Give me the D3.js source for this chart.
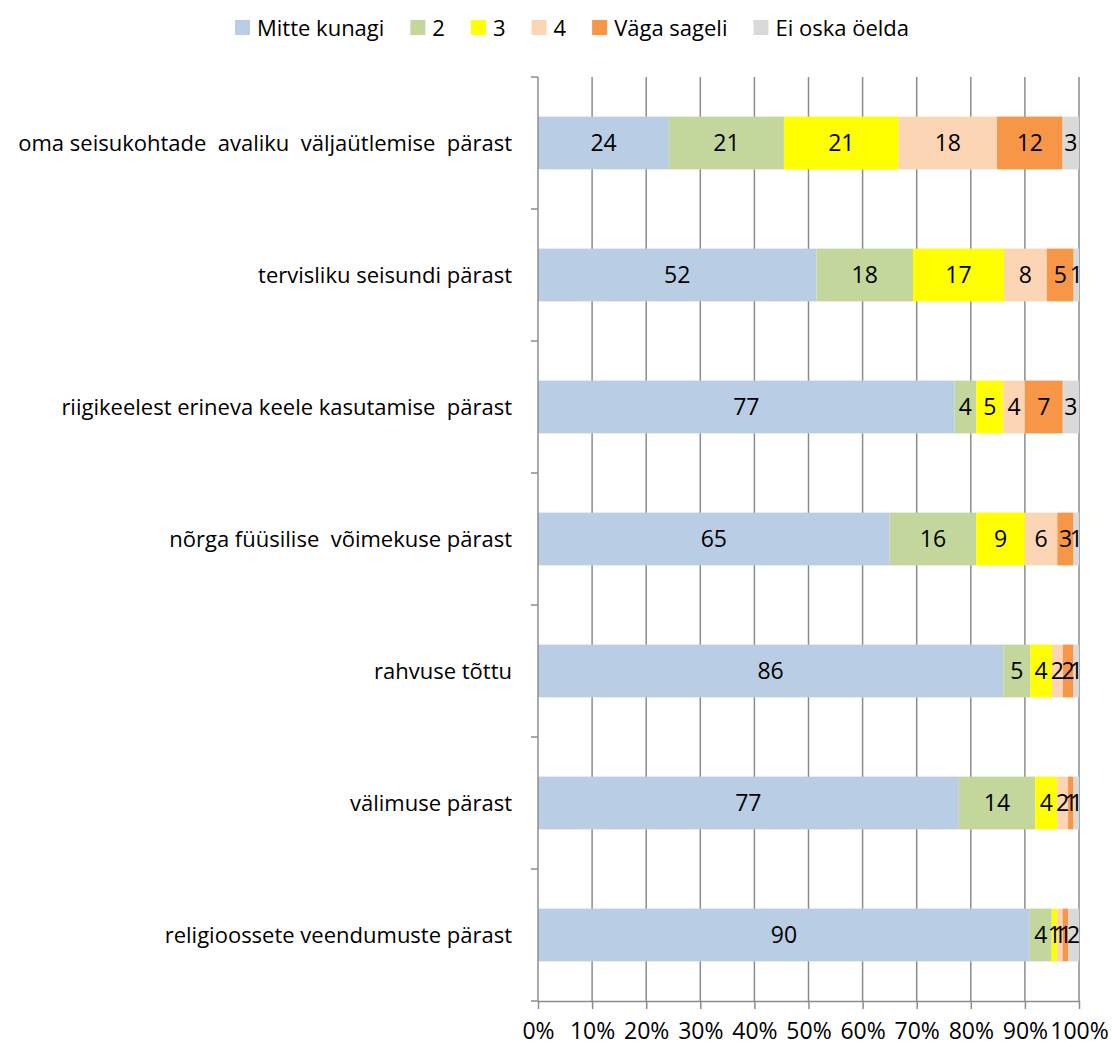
<!DOCTYPE html>
<html>
<head>
<meta charset="utf-8">
<script src="https://cdn.jsdelivr.net/npm/d3@7"></script>
<style>
  body { margin: 0; background: #fff; }
  text { font-family: "Open Sans", "Lato", sans-serif; }
</style>
</head>
<body>
<svg id="chart" width="1117" height="1047"></svg>
<script>
// Categories (top to bottom)
const categories = [
  "oma seisukohtade  avaliku  väljaütlemise  pärast",
  "tervisliku seisundi pärast",
  "riigikeelest erineva keele kasutamise  pärast",
  "nõrga füüsilise  võimekuse pärast",
  "rahvuse tõttu",
  "välimuse pärast",
  "religioossete veendumuste pärast"
];
// Series names and values per category
const seriesNames = ["Mitte kunagi", "2", "3", "4", "Väga sageli", "Ei oska öelda"];
const mitteKunagi = [24, 52, 77, 65, 86, 77, 90];
const s2          = [21, 18, 4, 16, 5, 14, 4];
const s3          = [21, 17, 5, 9, 4, 4, 1];
const s4          = [18, 8, 4, 6, 2, 2, 1];
const vagaSageli  = [12, 5, 7, 3, 2, 1, 1];
const eiOska      = [3, 1, 3, 1, 1, 1, 2];
const xTicks = [0, 0.1, 0.2, 0.3, 0.4, 0.5, 0.6, 0.7, 0.8, 0.9, 1];

const colors = ["#B9CDE5", "#C3D69B", "#FFFF00", "#FCD5B5", "#F79646", "#D9D9D9"];
const seriesValues = [mitteKunagi, s2, s3, s4, vagaSageli, eiOska];

const rows = categories.map((c, i) => {
  const row = { cat: c };
  seriesNames.forEach((s, j) => row[s] = seriesValues[j][i]);
  return row;
});

const svg = d3.select("#chart");
const margin = { left: 538, right: 38, top: 77, bottom: 46 };
const W = 1117, H = 1047;

const x = d3.scaleLinear().domain([0, 1]).range([margin.left, W - margin.right]);
const y = d3.scaleBand().domain(categories).range([margin.top, H - margin.bottom]).paddingInner(0.6).paddingOuter(0.3);
const yb = d3.scaleBand().domain(categories).range([margin.top, H - margin.bottom]);

const stack = d3.stack().keys(seriesNames).offset(d3.stackOffsetExpand);
const stacked = stack(rows);

const gridColor = "#8c8c8c";

// vertical gridlines
svg.append("g").selectAll("line").data(xTicks.slice(1)).join("line")
  .attr("x1", d => x(d)).attr("x2", d => x(d))
  .attr("y1", margin.top).attr("y2", H - margin.bottom)
  .attr("stroke", gridColor).attr("stroke-width", 1.5);

// bars
const layers = svg.append("g").selectAll("g").data(stacked).join("g")
  .attr("fill", (d, i) => colors[i]);
layers.selectAll("rect").data(d => d).join("rect")
  .attr("x", d => x(d[0]))
  .attr("width", d => x(d[1]) - x(d[0]))
  .attr("y", d => y(d.data.cat))
  .attr("height", y.bandwidth());

// value labels
const labels = svg.append("g").attr("font-size", 23).attr("fill", "#000").attr("text-anchor", "middle");
stacked.forEach((layer) => {
  layer.forEach(d => {
    labels.append("text")
      .attr("x", (x(d[0]) + x(d[1])) / 2)
      .attr("y", y(d.data.cat) + y.bandwidth() / 2)
      .attr("dy", "0.36em")
      .text(d.data[layer.key]);
  });
});

// left axis: ticks at category boundaries
const yAxisG = svg.append("g");
yAxisG.append("line")
  .attr("x1", margin.left).attr("x2", margin.left)
  .attr("y1", margin.top).attr("y2", H - margin.bottom)
  .attr("stroke", gridColor).attr("stroke-width", 1.5);
const bounds = categories.map(c => yb(c)).concat([H - margin.bottom]);
yAxisG.selectAll("line.tick").data(bounds).join("line").attr("class", "tick")
  .attr("x1", margin.left - 7).attr("x2", margin.left)
  .attr("y1", d => d).attr("y2", d => d)
  .attr("stroke", gridColor).attr("stroke-width", 1.5);
yAxisG.selectAll("text").data(categories).join("text")
  .attr("x", margin.left - 26)
  .attr("y", d => yb(d) + yb.bandwidth() / 2)
  .attr("dy", "0.36em")
  .attr("text-anchor", "end")
  .attr("font-size", 22)
  .attr("fill", "#000")
  .style("white-space", "pre")
  .text(d => d);

// bottom axis
const xAxis = d3.axisBottom(x).tickValues(xTicks).tickFormat(d3.format(".0%")).tickSizeInner(8).tickSizeOuter(0).tickPadding(14);
const xg = svg.append("g").attr("transform", `translate(0,${H - margin.bottom})`).call(xAxis);
xg.select(".domain").attr("stroke", gridColor).attr("stroke-width", 1.5);
xg.selectAll(".tick line").attr("stroke", gridColor).attr("stroke-width", 1.5);
xg.selectAll(".tick text").attr("font-size", 23).attr("fill", "#000")
  .attr("font-family", "'Open Sans', Lato, sans-serif");

// legend
const legend = svg.append("g").attr("font-size", 22);
const gapAfter = 26, sw = 15, textGap = 7;
let items = [];
let cx = 0;
const tmp = legend.append("g");
seriesNames.forEach((s, i) => {
  const t = tmp.append("text").text(s);
  const w = t.node().getComputedTextLength();
  items.push({ s, i, x: cx, w });
  cx += sw + textGap + w + gapAfter;
});
tmp.remove();
const total = cx - gapAfter;
const lx0 = 572 - total / 2;
items.forEach(it => {
  legend.append("rect").attr("x", lx0 + it.x).attr("y", 20).attr("width", sw).attr("height", sw).attr("fill", colors[it.i]);
  legend.append("text").attr("x", lx0 + it.x + sw + textGap).attr("y", 28).attr("dy", "0.36em").attr("fill", "#000").text(it.s);
});
</script>
</body>
</html>
